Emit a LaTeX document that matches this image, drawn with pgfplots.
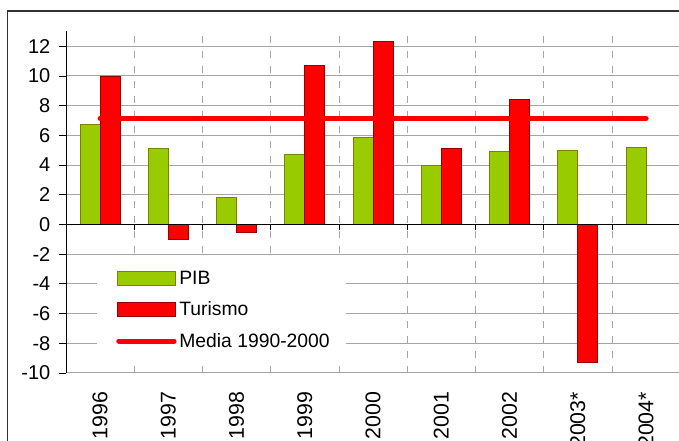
\documentclass[border=0pt]{standalone}
\usepackage{pgfplots}
\pgfplotsset{compat=1.18}
\usepackage{fontspec}
\setmainfont{Liberation Sans}
\definecolor{pibgreen}{RGB}{153,204,0}
\definecolor{pibedge}{RGB}{128,128,0}
\definecolor{turred}{RGB}{255,0,0}
\definecolor{turedge}{RGB}{150,0,0}
\definecolor{gridgray}{RGB}{165,165,165}
\definecolor{framegray}{RGB}{50,50,50}
\pgfplotsset{
  barlegend/.style={legend image code/.code={\draw[##1] (0pt,-5.25pt) rectangle (43.5pt,5.25pt);}},
  linelegend/.style={legend image code/.code={\draw[##1] (1pt,0pt) -- (42.5pt,0pt);}},
}
\begin{document}
\begin{tikzpicture}
\useasboundingbox (0,0) rectangle (509.25pt,330.75pt);
\clip (0,0) rectangle (509.25pt,330.75pt);
\draw[framegray, line width=1.2pt] (5.6pt,-10pt) -- (5.6pt,322.5pt) -- (530pt,322.5pt);
\begin{axis}[
  at={(49.5pt,51pt)}, anchor=south west,
  scale only axis, width=460.69pt, height=256.2pt,
  xmin=-0.5, xmax=8.5, ymin=-10, ymax=13,
  axis line style={draw=none},
  xtick={0,1,2,3,4,5,6,7,8},
  xticklabels={1996,1997,1998,1999,2000,2001,2002,2003*,2004*},
  xtick style={draw=none},
  minor xtick={0.5,1.5,2.5,3.5,4.5,5.5,6.5,7.5},
  minor tick length=0pt,
  xminorgrids,
  minor grid style={gridgray, line width=0.75pt, dash pattern=on 5pt off 6.25pt},
  ytick={-10,-8,-6,-4,-2,0,2,4,6,8,10,12},
  yticklabels={-10,-8,-6,-4,-2,0,2,4,6,8,10,12},
  ytick pos=left,
  tick align=outside,
  major tick length=5.25pt,
  ytick style={black, line width=0.6pt},
  ymajorgrids,
  major grid style={gridgray, line width=0.75pt},
  yticklabel style={font=\fontsize{15}{18}\selectfont},
  xticklabel style={rotate=90, anchor=east, font=\fontsize{16}{19}\selectfont},
  xticklabel shift=5.5pt,
  yticklabel shift=3pt,
  legend style={at={(0.0814,0.307)}, anchor=north west, draw=none, fill=none,
    inner xsep=0pt, inner ysep=0pt, row sep=7.5pt,
    font=\fontsize{14.5}{17}\selectfont},
  legend cell align=left,
]
\addplot[ybar, bar width=15pt, bar shift=-7.5pt, fill=pibgreen, draw=pibedge, line width=0.6pt, barlegend]
  coordinates {(0,6.73) (1,5.12) (2,1.82) (3,4.71) (4,5.86) (5,3.99) (6,4.89) (7,4.98) (8,5.2)};
\addlegendentry{PIB}
\addplot[ybar, bar width=15pt, bar shift=7.5pt, fill=turred, draw=turedge, line width=0.6pt, barlegend]
  coordinates {(0,10.0) (1,-1.0) (2,-0.54) (3,10.7) (4,12.32) (5,5.12) (6,8.42) (7,-9.29)};
\addlegendentry{Turismo}
\addplot[turred, line width=3.75pt, line cap=round, linelegend]
  coordinates {(0,7.14) (8,7.14)};
\addlegendentry{Media 1990-2000}
\fill[white] (rel axis cs:0.0505,0.0381) rectangle (rel axis cs:0.4558,0.3425);
\draw[black, line width=0.75pt] (axis cs:-0.5,0) -- (axis cs:8.5,0);
\draw[black, line width=0.75pt] (axis cs:-0.5,-10) -- (axis cs:-0.5,13);
\pgfplotsinvokeforeach{0.5,1.5,2.5,3.5,4.5,5.5,6.5,7.5}{
  \draw[black, line width=0.6pt] (axis cs:#1,0) -- ([yshift=-4.5pt]axis cs:#1,0);
}
\end{axis}
\end{tikzpicture}
\end{document}
